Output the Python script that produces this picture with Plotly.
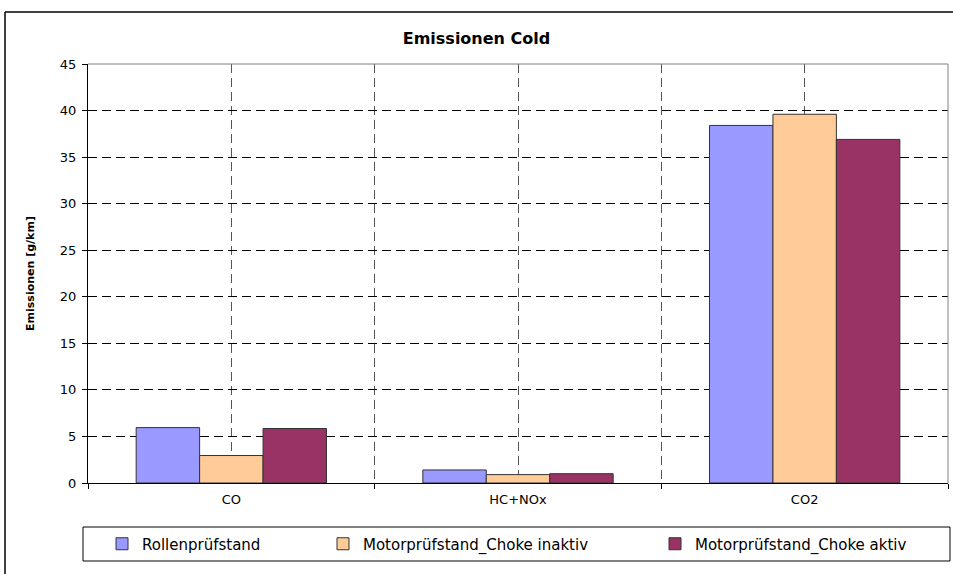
import plotly.graph_objects as go

categories = ["CO", "HC+NOx", "CO2"]
series_names = ["Rollenprüfstand", "Motorprüfstand_Choke inaktiv", "Motorprüfstand_Choke aktiv"]
rollen = [5.95, 1.4, 38.4]
choke_inaktiv = [2.95, 0.9, 39.6]
choke_aktiv = [5.85, 1.0, 36.9]
colors = ["#9999FF", "#FFCC99", "#993366"]
y_ticks = [0, 5, 10, 15, 20, 25, 30, 35, 40, 45]

FONT = "DejaVu Sans, Arial, sans-serif"
xpos = list(range(len(categories)))

fig = go.Figure()
legend_ids = ["legend", "legend2", "legend3"]
for name, vals, col, lg in zip(series_names, [rollen, choke_inaktiv, choke_aktiv], colors, legend_ids):
    fig.add_trace(go.Bar(
        x=xpos, y=vals, name=name, legend=lg, showlegend=True,
        marker=dict(color=col, line=dict(color="#333333", width=1)),
    ))

W, H = 953, 574
L, R, T, B = 88, 5, 64, 91
pw, ph = W - L - R, H - T - B

def px_x(p):
    return (p - L) / pw

def px_y(p):
    return (H - B - p) / ph

leg_common = dict(orientation="h", bgcolor="rgba(0,0,0,0)", borderwidth=0,
                  font=dict(family=FONT, size=15, color="black"),
                  yanchor="middle", xanchor="left", y=px_y(544), visible=True)

fig.update_layout(
    width=W, height=H,
    margin=dict(l=L, r=R, t=T, b=B),
    paper_bgcolor="white", plot_bgcolor="white",
    barmode="group", bargap=0.336, bargroupgap=0,
    showlegend=True,
    font=dict(family=FONT, size=13, color="black"),
    title=dict(text="<b>Emissionen Cold</b>", x=0.5, xanchor="center",
               y=1 - 38 / H, yanchor="middle",
               font=dict(family=FONT, size=16, color="black")),
    legend=dict(x=px_x(102), **leg_common),
    legend2=dict(x=px_x(323), **leg_common),
    legend3=dict(x=px_x(655), **leg_common),
    xaxis=dict(
        range=[-0.5, 2.5],
        tickmode="array", tickvals=xpos, ticktext=categories,
        ticks="", showline=True, linecolor="black", linewidth=1,
        showgrid=True, gridcolor="#555555", gridwidth=1, griddash="9px,5px",
        zeroline=False, ticklabelstandoff=4,
        tickfont=dict(family=FONT, size=13, color="black"),
        minor=dict(tickmode="array", tickvals=[-0.5, 0.5, 1.5, 2.5],
                   ticks="outside", ticklen=5, tickcolor="black",
                   showgrid=True, gridcolor="#555555", gridwidth=1, griddash="9px,5px"),
    ),
    yaxis=dict(
        range=[0, 45], tickmode="array", tickvals=y_ticks,
        ticks="outside", ticklen=5, tickcolor="black",
        showline=True, linecolor="black", linewidth=1,
        showgrid=True, gridcolor="black", gridwidth=1, griddash="9px,5px",
        zeroline=False, ticklabelstandoff=3,
        tickfont=dict(family=FONT, size=13, color="black"),
        title=dict(text="<b>Emissionen [g/km]</b>", standoff=23,
                   font=dict(family=FONT, size=11, color="black")),
    ),
    shapes=[
        dict(type="line", xref="paper", yref="paper", x0=0, x1=1, y0=1, y1=1,
             line=dict(color="#808080", width=1)),
        dict(type="line", xref="paper", yref="paper", x0=1, x1=1, y0=0, y1=1,
             line=dict(color="#808080", width=1)),
        dict(type="rect", xref="paper", yref="paper",
             x0=px_x(83), x1=px_x(950), y0=px_y(527), y1=px_y(561),
             line=dict(color="black", width=1), fillcolor="rgba(0,0,0,0)"),
        # outer chart border: only left and top edges are visible
        dict(type="line", xref="paper", yref="paper",
             x0=px_x(5), x1=px_x(5), y0=px_y(12), y1=px_y(580),
             line=dict(color="black", width=1.5)),
        dict(type="line", xref="paper", yref="paper",
             x0=px_x(5), x1=px_x(960), y0=px_y(12), y1=px_y(12),
             line=dict(color="black", width=1.5)),
    ],
)

fig.write_html("out.html", config={"displayModeBar": False},
               post_script="document.body.style.margin='0px';")
